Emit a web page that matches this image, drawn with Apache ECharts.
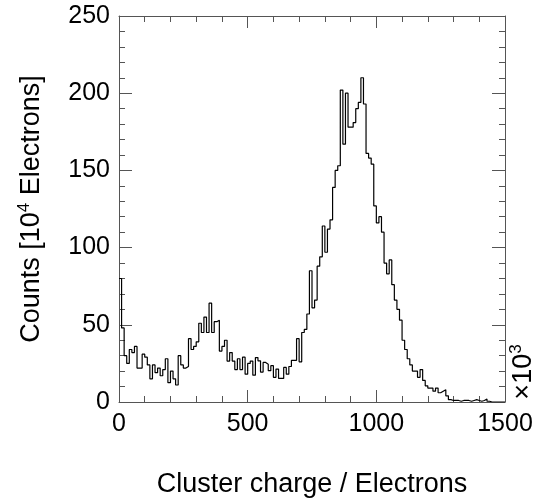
<!DOCTYPE html>
<html>
<head>
<meta charset="utf-8">
<script src="https://cdn.jsdelivr.net/npm/echarts@6/dist/echarts.min.js"></script>
<style>
html,body{margin:0;padding:0;background:#fff;}
#chart{width:551px;height:503px;}
</style>
</head>
<body>
<div id="chart"></div>
<script>
// Histogram: bin width 10 electrons (x10^3), 150 bins from 0 to 1500
var binWidth = 10;
var xMin = 0, xMax = 1500;
var yMin = 0, yMax = 250;
var xTickInterval = 500;
var yTickInterval = 50;
var counts = [
  80, 48, 30, 25, 34, 32, 36, 22, 22, 31,
  29, 24, 15, 24, 19, 22, 17, 21, 28, 12.5,
  20, 15, 11, 30, 24, 22, 23, 41, 34, 36,
  39, 51, 45, 55, 45, 64, 45, 52, 53, 33,
  36, 40, 26.5, 32, 26.5, 21, 28, 21, 29, 18,
  25, 26.5, 17.4, 28.8, 26.7, 19.4, 25.6, 24.5, 20.3, 23.5,
  16, 21.3, 15.3, 15.3, 22.4, 18, 23, 27, 27, 41,
  26, 45, 47, 57, 85, 61, 66, 88, 94, 114,
  97, 112, 118, 139, 150, 153, 202, 167, 200, 178,
  178, 181, 190, 194, 210, 193, 161, 158, 154, 127,
  116, 120, 110, 90, 83, 92, 76, 66, 60, 53,
  40, 34, 28, 24, 20, 20, 16, 21, 14, 10.5,
  9, 9, 7, 9, 6, 7, 8, 4, 1.5, 1,
  1, 1, 0.5, 1, 1, 1, 0.5, 1, 1.5, 1,
  0.5, 1, 2, 0.5, 0, 0, 0, 0, 0, 0
];
var xTitle = 'Cluster charge / Electrons';
var yTitleParts = ['Counts [10', '4', ' Electrons]'];
var scaleParts = ['\u00d710', '3'];

var stepData = [];
for (var i = 0; i < counts.length; i++) {
  stepData.push([xMin + i * binWidth, counts[i]]);
}
stepData.push([xMin + counts.length * binWidth, counts[counts.length - 1]]);

var font = 'Liberation Sans, Arial, Helvetica, sans-serif';
var axisColor = '#555';
var tickLabelStyle = {color: '#000', fontSize: 25, fontFamily: font};
var titleStyle = {color: '#000', fontSize: 27, fontFamily: font};
function plain(v) { return String(v); }

function makeX(pos, showLabels) {
  return {
    type: 'value', position: pos, min: xMin, max: xMax, interval: xTickInterval,
    axisLine: {show: true, onZero: false, lineStyle: {color: axisColor, width: 1}},
    axisTick: {show: true, inside: true, length: 12, lineStyle: {color: axisColor}},
    minorTick: {show: true, splitNumber: 5, length: 6, lineStyle: {color: axisColor}},
    splitLine: {show: false},
    axisLabel: Object.assign({show: showLabels, margin: 10, formatter: plain}, tickLabelStyle),
    name: showLabels ? xTitle : '',
    nameLocation: 'middle', nameGap: 69,
    nameTextStyle: titleStyle
  };
}
function makeY(pos, showLabels) {
  return {
    type: 'value', position: pos, min: yMin, max: yMax, interval: yTickInterval,
    axisLine: {show: true, onZero: false, lineStyle: {color: axisColor, width: 1}},
    axisTick: {show: true, inside: true, length: 13, lineStyle: {color: axisColor}},
    minorTick: {show: true, splitNumber: 5, length: 6, lineStyle: {color: axisColor}},
    splitLine: {show: false},
    axisLabel: Object.assign({show: showLabels, margin: 9, formatter: plain}, tickLabelStyle),
    name: showLabels ? '{a|' + yTitleParts[0] + '}{s|' + yTitleParts[1] + '}{a|' + yTitleParts[2] + '}' : '',
    nameLocation: 'middle', nameGap: 71,
    nameTextStyle: {
      color: '#000', fontFamily: font, fontSize: 27,
      rich: {
        a: {fontSize: 27, fontFamily: font, color: '#000', lineHeight: 32},
        s: {fontSize: 17, fontFamily: font, color: '#000', verticalAlign: 'top', lineHeight: 32}
      }
    }
  };
}

var chart = echarts.init(document.getElementById('chart'), null, {renderer: 'canvas'});
chart.setOption({
  backgroundColor: '#fff',
  animation: false,
  grid: {left: 119, right: 46, top: 16, bottom: 100, containLabel: false},
  xAxis: [makeX('bottom', true), makeX('top', false)],
  yAxis: [makeY('left', true), makeY('right', false)],
  graphic: [{
    type: 'text',
    x: 524, y: 372,
    rotation: Math.PI / 2,
    style: {
      text: '{a|' + scaleParts[0] + '}{s|' + scaleParts[1] + '}',
      align: 'center', verticalAlign: 'middle',
      fill: '#000', font: '27px ' + font,
      rich: {
        a: {fontSize: 27, fontFamily: font, fill: '#000', lineHeight: 32},
        s: {fontSize: 17, fontFamily: font, fill: '#000', verticalAlign: 'top', lineHeight: 32}
      }
    }
  }],
  series: [{
    type: 'line',
    xAxisIndex: 0, yAxisIndex: 0,
    data: stepData,
    step: 'end',
    symbol: 'none',
    lineStyle: {color: '#000', width: 1.2},
    clip: true
  }]
});
</script>
</body>
</html>
